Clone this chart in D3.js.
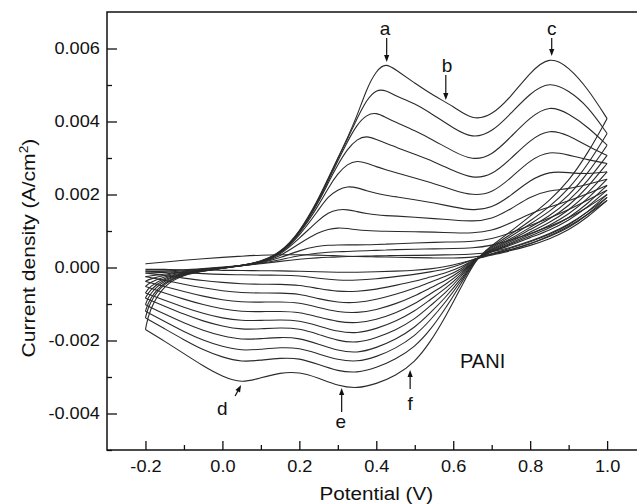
<!DOCTYPE html>
<html>
<head>
<meta charset="utf-8">
<script src="https://cdn.jsdelivr.net/npm/d3@7"></script>
<style>
  body { margin: 0; background: #fff; }
  svg { display: block; }
  text { font-family: "Liberation Sans", Arial, Helvetica, sans-serif; fill: #111; }
</style>
</head>
<body>
<svg id="chart" width="637" height="504"></svg>
<script>
// Cyclic voltammograms of PANI growth: forward (anodic) and reverse (cathodic) scans
// Potentials in V; current densities in mA/cm^2 (plotted in A/cm^2)
const potentialsAnodic = [-0.2, -0.19, -0.15, -0.1, -0.05, 0, 0.05, 0.1, 0.15, 0.2, 0.25, 0.275, 0.3, 0.325, 0.35, 0.375, 0.4, 0.425, 0.45, 0.5, 0.55, 0.6, 0.65, 0.7, 0.75, 0.8, 0.85, 0.9, 0.95, 1.0];
const potentialsCathodic = [1.0, 0.95, 0.9, 0.85, 0.8, 0.75, 0.7, 0.66, 0.62, 0.58, 0.54, 0.5, 0.45, 0.4, 0.35, 0.3, 0.25, 0.2, 0.15, 0.1, 0.05, 0.0, -0.05, -0.1, -0.15, -0.2];

const cycle1Anodic  = [0.10, 0.11, 0.15, 0.20, 0.24, 0.28, 0.31, 0.34, 0.35, 0.35, 0.34, 0.33, 0.32, 0.31, 0.30, 0.30, 0.29, 0.29, 0.28, 0.27, 0.26, 0.26, 0.27, 0.36, 0.48, 0.64, 0.86, 1.12, 1.45, 1.84];
const cycle2Anodic  = [-0.10, -0.10, -0.09, -0.07, -0.03, 0.01, 0.05, 0.10, 0.17, 0.23, 0.27, 0.28, 0.29, 0.30, 0.31, 0.31, 0.32, 0.32, 0.33, 0.33, 0.34, 0.35, 0.36, 0.42, 0.55, 0.72, 0.92, 1.18, 1.52, 1.92];
const cycle3Anodic  = [-0.15, -0.15, -0.14, -0.09, -0.04, 0.00, 0.05, 0.11, 0.21, 0.33, 0.40, 0.42, 0.43, 0.44, 0.45, 0.46, 0.47, 0.48, 0.49, 0.50, 0.51, 0.52, 0.53, 0.60, 0.75, 0.93, 1.12, 1.35, 1.65, 2.00];
const cycle4Anodic  = [-0.25, -0.23, -0.18, -0.11, -0.05, -0.01, 0.05, 0.12, 0.26, 0.47, 0.59, 0.61, 0.62, 0.62, 0.62, 0.62, 0.63, 0.64, 0.65, 0.67, 0.69, 0.70, 0.71, 0.78, 0.95, 1.15, 1.35, 1.58, 1.85, 2.12];
const cycle5Anodic  = [-0.38, -0.32, -0.21, -0.12, -0.06, -0.01, 0.05, 0.13, 0.30, 0.66, 0.97, 1.05, 1.09, 1.07, 1.03, 1.01, 1.00, 0.99, 0.99, 0.98, 0.97, 0.95, 0.94, 1.00, 1.22, 1.48, 1.66, 1.82, 2.02, 2.25];
const cycle6Anodic  = [-0.52, -0.42, -0.24, -0.14, -0.07, -0.02, 0.05, 0.13, 0.33, 0.80, 1.30, 1.51, 1.59, 1.59, 1.53, 1.48, 1.44, 1.42, 1.41, 1.38, 1.34, 1.30, 1.26, 1.32, 1.60, 1.95, 2.12, 2.15, 2.28, 2.42];
const cycle7Anodic  = [-0.70, -0.52, -0.27, -0.15, -0.07, -0.02, 0.05, 0.14, 0.35, 0.86, 1.58, 1.95, 2.13, 2.23, 2.19, 2.10, 2.03, 1.98, 1.94, 1.86, 1.77, 1.66, 1.56, 1.62, 1.97, 2.40, 2.64, 2.60, 2.56, 2.62];
const cycle8Anodic  = [-0.84, -0.62, -0.30, -0.16, -0.08, -0.02, 0.05, 0.14, 0.36, 0.90, 1.70, 2.18, 2.58, 2.84, 2.93, 2.86, 2.76, 2.68, 2.60, 2.45, 2.30, 2.12, 1.97, 2.03, 2.45, 2.95, 3.20, 3.08, 2.95, 2.85];
const cycle9Anodic  = [-1.02, -0.72, -0.33, -0.17, -0.08, -0.02, 0.06, 0.15, 0.37, 0.92, 1.78, 2.32, 2.82, 3.25, 3.52, 3.61, 3.51, 3.40, 3.30, 3.10, 2.90, 2.65, 2.43, 2.52, 2.98, 3.50, 3.80, 3.62, 3.32, 3.07];
const cycle10Anodic = [-1.20, -0.85, -0.37, -0.18, -0.09, -0.02, 0.06, 0.15, 0.38, 0.93, 1.82, 2.38, 2.92, 3.45, 3.92, 4.19, 4.25, 4.11, 3.98, 3.75, 3.48, 3.18, 2.93, 3.06, 3.58, 4.12, 4.45, 4.22, 3.85, 3.35];
const cycle11Anodic = [-1.38, -0.95, -0.40, -0.19, -0.09, -0.02, 0.06, 0.15, 0.39, 0.94, 1.85, 2.42, 2.98, 3.52, 4.08, 4.60, 4.88, 4.86, 4.70, 4.50, 4.17, 3.82, 3.53, 3.70, 4.22, 4.78, 5.10, 4.85, 4.42, 3.67];
const cycle12Anodic = [-1.70, -1.15, -0.45, -0.20, -0.10, -0.02, 0.06, 0.16, 0.40, 0.95, 1.88, 2.45, 3.00, 3.55, 4.15, 4.90, 5.40, 5.60, 5.42, 5.05, 4.70, 4.42, 4.03, 4.16, 4.68, 5.35, 5.80, 5.50, 4.90, 4.08];

const cycle1Cathodic  = [1.84, 1.38, 1.02, 0.78, 0.60, 0.46, 0.34, 0.24, 0.12, 0.02, -0.04, -0.08, -0.10, -0.12, -0.13, -0.13, -0.12, -0.10, -0.09, -0.09, -0.08, -0.08, -0.07, -0.06, -0.05, -0.05];
const cycle2Cathodic  = [1.92, 1.45, 1.08, 0.84, 0.65, 0.49, 0.36, 0.26, 0.08, -0.05, -0.12, -0.19, -0.25, -0.31, -0.35, -0.35, -0.30, -0.22, -0.21, -0.21, -0.20, -0.19, -0.17, -0.14, -0.12, -0.10];
const cycle3Cathodic  = [2.00, 1.52, 1.15, 0.90, 0.70, 0.53, 0.38, 0.26, 0.00, -0.15, -0.26, -0.38, -0.49, -0.60, -0.66, -0.66, -0.58, -0.48, -0.46, -0.46, -0.45, -0.41, -0.36, -0.29, -0.22, -0.15];
const cycle4Cathodic  = [2.12, 1.66, 1.28, 1.02, 0.82, 0.61, 0.43, 0.26, -0.05, -0.25, -0.40, -0.57, -0.74, -0.88, -0.97, -0.96, -0.86, -0.72, -0.70, -0.70, -0.69, -0.64, -0.56, -0.46, -0.35, -0.25];
const cycle5Cathodic  = [2.25, 1.75, 1.35, 1.08, 0.86, 0.64, 0.44, 0.26, -0.10, -0.36, -0.56, -0.78, -1.00, -1.16, -1.25, -1.22, -1.10, -0.96, -0.94, -0.95, -0.95, -0.89, -0.79, -0.66, -0.52, -0.38];
const cycle6Cathodic  = [2.42, 1.88, 1.45, 1.15, 0.91, 0.67, 0.45, 0.26, -0.15, -0.47, -0.72, -1.00, -1.25, -1.43, -1.53, -1.49, -1.36, -1.22, -1.20, -1.21, -1.21, -1.14, -1.02, -0.87, -0.70, -0.52];
const cycle7Cathodic  = [2.62, 2.03, 1.56, 1.23, 0.97, 0.71, 0.47, 0.26, -0.20, -0.58, -0.88, -1.20, -1.48, -1.68, -1.81, -1.76, -1.60, -1.45, -1.43, -1.45, -1.46, -1.39, -1.26, -1.09, -0.90, -0.70];
const cycle8Cathodic  = [2.85, 2.20, 1.68, 1.32, 1.04, 0.75, 0.49, 0.26, -0.25, -0.70, -1.05, -1.42, -1.72, -1.93, -2.07, -2.01, -1.83, -1.67, -1.65, -1.68, -1.70, -1.61, -1.47, -1.28, -1.06, -0.84];
const cycle9Cathodic  = [3.07, 2.37, 1.81, 1.41, 1.10, 0.79, 0.51, 0.26, -0.32, -0.82, -1.25, -1.65, -1.98, -2.20, -2.35, -2.28, -2.10, -1.93, -1.91, -1.95, -1.98, -1.88, -1.73, -1.52, -1.28, -1.02];
const cycle10Cathodic = [3.35, 2.58, 1.96, 1.53, 1.19, 0.85, 0.54, 0.26, -0.38, -0.95, -1.45, -1.88, -2.22, -2.45, -2.59, -2.53, -2.37, -2.20, -2.19, -2.24, -2.28, -2.17, -2.00, -1.76, -1.48, -1.20];
const cycle11Cathodic = [3.67, 2.82, 2.14, 1.66, 1.28, 0.91, 0.57, 0.26, -0.45, -1.12, -1.72, -2.18, -2.52, -2.75, -2.89, -2.84, -2.66, -2.48, -2.48, -2.54, -2.59, -2.46, -2.26, -1.98, -1.68, -1.38];
const cycle12Cathodic = [4.08, 3.13, 2.36, 1.83, 1.41, 0.99, 0.60, 0.26, -0.55, -1.35, -2.05, -2.60, -2.97, -3.19, -3.32, -3.24, -3.03, -2.86, -2.88, -3.02, -3.17, -2.99, -2.70, -2.36, -2.02, -1.70];

const xTicks = [-0.2, 0.0, 0.2, 0.4, 0.6, 0.8, 1.0];
const xMinorTicks = [-0.1, 0.1, 0.3, 0.5, 0.7, 0.9];
const yTicks = [-0.004, -0.002, 0.000, 0.002, 0.004, 0.006];
const yMinorTicks = [-0.005, -0.003, -0.001, 0.001, 0.003, 0.005];

const anodicScans = [cycle1Anodic, cycle2Anodic, cycle3Anodic, cycle4Anodic, cycle5Anodic, cycle6Anodic,
                     cycle7Anodic, cycle8Anodic, cycle9Anodic, cycle10Anodic, cycle11Anodic, cycle12Anodic];
const cathodicScans = [cycle1Cathodic, cycle2Cathodic, cycle3Cathodic, cycle4Cathodic, cycle5Cathodic, cycle6Cathodic,
                       cycle7Cathodic, cycle8Cathodic, cycle9Cathodic, cycle10Cathodic, cycle11Cathodic, cycle12Cathodic];

const svg = d3.select("#chart");
const plotLeft = 107, plotTop = 12, plotBottom = 450;
const x = d3.scaleLinear().domain([-0.3, 1.1]).range([plotLeft, plotLeft + 1.4 * 384.7]);
const y = d3.scaleLinear().domain([-0.005, 0.007]).range([plotBottom, plotTop]);

// Curves
const line = d3.line()
  .x(d => x(d[0]))
  .y(d => y(d[1] / 1000))
  .curve(d3.curveBasis);

const curves = svg.append("g")
  .attr("fill", "none")
  .attr("stroke", "#2a2a2a")
  .attr("stroke-width", 1.1)
  .attr("stroke-linejoin", "round");

anodicScans.forEach(scan => {
  const pts = potentialsAnodic.map((v, i) => [v, scan[i]]);
  curves.append("path").attr("d", line(pts));
});
cathodicScans.forEach(scan => {
  const pts = potentialsCathodic.map((v, i) => [v, scan[i]]);
  curves.append("path").attr("d", line(pts));
});

// Axes (ticks pointing inward)
const stretch = "scale(1.1,1)";
const xAxis = svg.append("g").attr("transform", `translate(0,${plotBottom})`)
  .call(d3.axisBottom(x).tickValues(xTicks).tickSize(-9).tickSizeOuter(0).tickPadding(10)
    .tickFormat(d3.format(".1f")));
svg.append("g").attr("transform", `translate(0,${plotBottom})`)
  .call(d3.axisBottom(x).tickValues(xMinorTicks).tickSize(-5).tickSizeOuter(0).tickFormat(""));
const yAxis = svg.append("g").attr("transform", `translate(${plotLeft},0)`)
  .call(d3.axisLeft(y).tickValues(yTicks).tickSize(-10).tickSizeOuter(0).tickPadding(6.5)
    .tickFormat(d3.format(".3f")));
svg.append("g").attr("transform", `translate(${plotLeft},0)`)
  .call(d3.axisLeft(y).tickValues(yMinorTicks).tickSize(-5).tickSizeOuter(0).tickFormat(""));

svg.selectAll(".domain").remove();
svg.selectAll(".tick line").attr("stroke", "#111").attr("stroke-width", 1.3);
svg.selectAll(".tick text")
  .attr("fill", "#111")
  .style("font-family", '"Liberation Sans", Arial, sans-serif')
  .style("font-size", "16.5px")
  .attr("transform", stretch);
yAxis.selectAll(".tick text").text(d => d3.format(".3f")(d).replace("−", "-"));
xAxis.selectAll(".tick text").text(d => d3.format(".1f")(d).replace("−", "-"));

// Frame
svg.append("rect")
  .attr("x", plotLeft).attr("y", plotTop)
  .attr("width", x.range()[1] - plotLeft).attr("height", plotBottom - plotTop)
  .attr("fill", "none").attr("stroke", "#111").attr("stroke-width", 1.5);

// Axis titles
svg.append("text")
  .attr("transform", `translate(${x(0.4)},500) ${stretch}`)
  .attr("text-anchor", "middle")
  .style("font-size", "18.8px")
  .text("Potential (V)");

const yTitle = svg.append("text")
  .attr("transform", `translate(35,248) rotate(-90) ${stretch}`)
  .attr("text-anchor", "middle")
  .style("font-size", "19.2px");
yTitle.append("tspan").text("Current density (A/cm");
yTitle.append("tspan").attr("dy", -7).style("font-size", "12.5px").text("2");
yTitle.append("tspan").attr("dy", 7).text(")");

// Peak annotations: label and arrow pointing at the feature
const marks = svg.append("g");
function arrow(v0, i0, v1, i1) {
  const x0 = x(v0), y0 = y(i0), x1 = x(v1), y1 = y(i1);
  const ang = Math.atan2(y1 - y0, x1 - x0);
  const len = 7, half = 2.6;
  const bx = x1 - len * Math.cos(ang), by = y1 - len * Math.sin(ang);
  marks.append("line").attr("x1", x0).attr("y1", y0).attr("x2", bx).attr("y2", by)
    .attr("stroke", "#111").attr("stroke-width", 1.2);
  marks.append("path")
    .attr("d", `M${x1},${y1}L${bx - half * Math.sin(ang)},${by + half * Math.cos(ang)}L${bx + half * Math.sin(ang)},${by - half * Math.cos(ang)}Z`)
    .attr("fill", "#111");
}
function label(txt, px, py, size) {
  marks.append("text").attr("x", px).attr("y", py).attr("text-anchor", "middle")
    .style("font-size", size + "px").text(txt);
}

arrow(0.427, 0.006288, 0.427, 0.00563);
label("a", x(0.423), 35, 19);
arrow(0.5807, 0.005274, 0.5807, 0.004589);
label("b", x(0.584), 72, 19);
arrow(0.856, 0.006288, 0.856, 0.005795);
label("c", x(0.856), 35, 19);
arrow(0.033, -0.003521, 0.0486, -0.003219);
label("d", x(0.0), 415, 19);
arrow(0.310, -0.003959, 0.310, -0.003301);
label("e", x(0.308), 428, 19);
arrow(0.488, -0.003329, 0.488, -0.002808);
label("f", x(0.488), 410, 19);

marks.append("text").attr("x", 460).attr("y", 368).style("font-size", "20px").text("PANI");
</script>
</body>
</html>
